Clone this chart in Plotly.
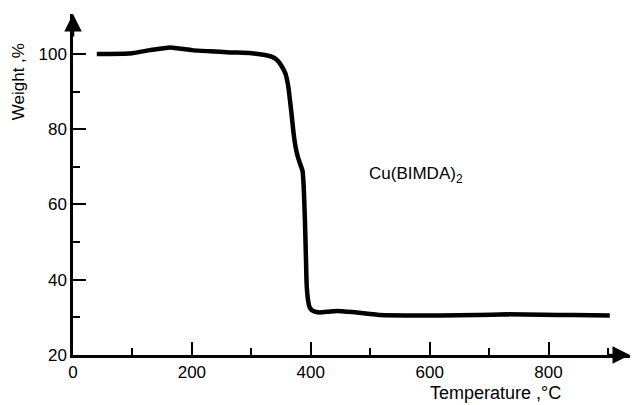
import plotly.graph_objects as go

# Data (TGA curve)
temperature = [40, 60, 100, 130, 163, 200, 230, 264, 300, 323, 335, 343, 350, 357,
               362, 365, 368, 371, 375, 378.5, 382, 386, 388, 390, 392, 393, 395,
               397, 399, 405, 415, 430, 443, 470, 500, 516, 560, 617, 680, 730,
               790, 841, 903]
weight = [100.0, 100.0, 100.2, 101.0, 101.7, 101.0, 100.7, 100.4, 100.2, 99.7, 99.2,
          98.4, 97.0, 94.9, 91.5, 87.7, 83.5, 79.0, 74.8, 72.5, 70.8, 69.0, 65.0,
          56.6, 45.0, 38.9, 35.0, 33.2, 32.4, 31.6, 31.3, 31.5, 31.7, 31.4, 30.9,
          30.6, 30.5, 30.5, 30.6, 30.8, 30.7, 30.6, 30.5]

x_ticks = [0, 200, 400, 600, 800]
x_minor = [100, 300, 500, 700, 900]
y_ticks = [20, 40, 60, 80, 100]
y_minor = [30, 50, 70, 90]
x_range = [0, 937]
y_range = [20, 110.6]

FONT = "Liberation Sans"

fig = go.Figure()
fig.add_trace(go.Scatter(x=temperature, y=weight, mode="lines",
                         line=dict(color="black", width=4.5, shape="spline", smoothing=0.4),
                         showlegend=False, hoverinfo="skip"))

axis_common = dict(showline=True, linecolor="black", linewidth=2.5, showgrid=False,
                   zeroline=False, ticks="inside", tickcolor="black", tickwidth=2,
                   ticklen=13, tickfont=dict(family=FONT, size=17, color="black"))

fig.update_xaxes(range=x_range, tickmode="array", tickvals=x_ticks,
                 ticktext=[str(v) for v in x_ticks],
                 minor=dict(tickmode="array", tickvals=x_minor, ticks="inside",
                            ticklen=7, tickwidth=2, tickcolor="black"),
                 **axis_common)
fig.update_yaxes(range=y_range, tickmode="array", tickvals=y_ticks,
                 ticktext=[str(v) for v in y_ticks],
                 minor=dict(tickmode="array", tickvals=y_minor, ticks="inside",
                            ticklen=7, tickwidth=2, tickcolor="black"),
                 **axis_common)

annotations = [
    # axis arrows
    dict(x=x_range[0], y=y_range[1], xref="x", yref="y", ax=0, ay=24, text="",
         showarrow=True, arrowhead=2, arrowsize=1.4, arrowwidth=2.5, arrowcolor="black"),
    dict(x=x_range[1], y=y_range[0], xref="x", yref="y", ax=-24, ay=0, text="",
         showarrow=True, arrowhead=2, arrowsize=1.4, arrowwidth=2.5, arrowcolor="black"),
    # axis titles
    dict(x=-0.0987, y=0.80, xref="paper", yref="paper", text="Weight ,%",
         xanchor="center", yanchor="middle",
         textangle=-90, showarrow=False, font=dict(family=FONT, size=17, color="black")),
    dict(x=0.7594, y=-0.112, xref="paper", yref="paper", text="Temperature ,°C",
         xanchor="center", yanchor="middle",
         showarrow=False, font=dict(family=FONT, size=18, color="black")),
    # compound label
    dict(x=494.6, y=67.8, xref="x", yref="y", text="Cu(BIMDA)<sub>2</sub>",
         xanchor="left", yanchor="middle", showarrow=False,
         font=dict(family=FONT, size=17, color="black")),
]

fig.update_layout(width=633, height=405, margin=dict(l=73, r=3, t=14, b=50),
                  plot_bgcolor="white", paper_bgcolor="white",
                  annotations=annotations)

fig.write_html("out.html")
